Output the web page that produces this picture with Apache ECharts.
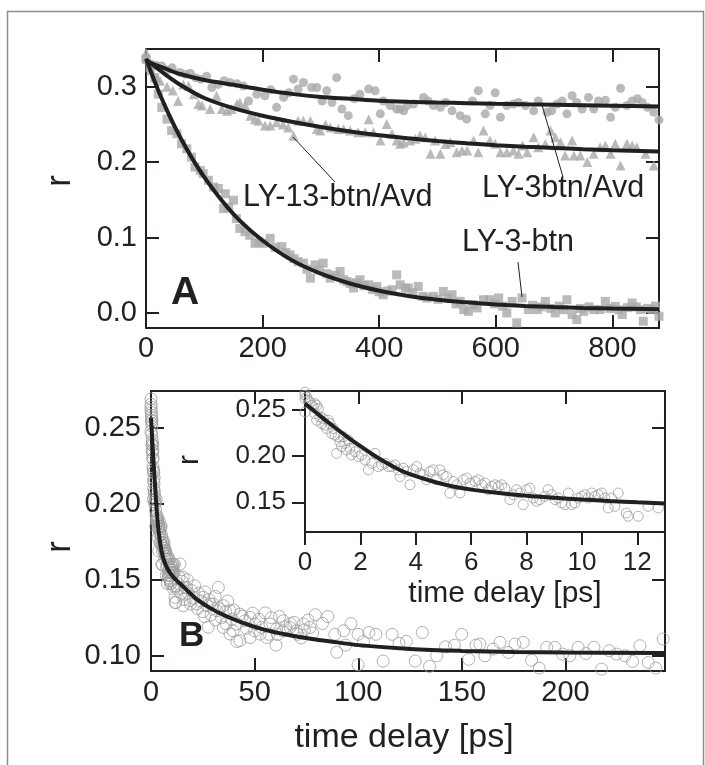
<!DOCTYPE html>
<html><head><meta charset="utf-8">
<script src="https://cdn.jsdelivr.net/npm/echarts@6/dist/echarts.min.js"></script>
<style>html,body{margin:0;padding:0;background:#fff}#c{width:705px;height:765px}</style>
</head><body><div id="c"></div>
<script>
// ---------- Panel A data ----------
const aTicksX = [0, 200, 400, 600, 800];
const aTicksY = [0, 0.1, 0.2, 0.3];
// LY-3btn/Avd (circles)
const aCircles = [[0,0.335],[9,0.330],[18,0.328],[27,0.3276],[36,0.322],[45,0.325],[58,0.319],[67,0.3166],[76,0.318],[85,0.312],
[94,0.310],[104,0.314],[113,0.299],[124,0.303],[134,0.308],[144,0.3056],[156,0.304],[167,0.301],[176,0.281],[190,0.290],
[204,0.288],[214,0.296],[224,0.2726],[236,0.2858],[245,0.292],[253,0.310],[261,0.297],[270,0.3056],[284,0.299],[293,0.299],
[302,0.281],[310,0.2946],[319,0.279],[327,0.312],[336,0.2705],[347,0.2616],[357,0.284],[367,0.290],[382,0.297],[393,0.2946],
[402,0.264],[407,0.281],[419,0.275],[430,0.2705],[436,0.2705],[442,0.268],[448,0.275],[459,0.277],[476,0.2858],[484,0.281],
[493,0.275],[505,0.2726],[514,0.279],[525,0.268],[539,0.2616],[550,0.257],[560,0.281],[570,0.2946],[582,0.264],[590,0.275],
[599,0.292],[608,0.2594],[619,0.275],[630,0.277],[639,0.279],[651,0.275],[665,0.268],[673,0.281],[688,0.266],[696,0.268],
[705,0.277],[714,0.281],[722,0.264],[731,0.288],[739,0.279],[748,0.2705],[759,0.2858],[768,0.2705],[776,0.281],[788,0.282],
[797,0.2594],[805,0.2726],[814,0.298],[825,0.275],[834,0.281],[843,0.284],[851,0.279],[860,0.2726],[871,0.266],[880,0.256]];
// LY-13-btn/Avd (triangles)
const aTriangles = [[0,0.345],[9,0.322],[18,0.312],[24,0.308],[36,0.300],[46,0.295],[55,0.281],[64,0.303],[73,0.301],[82,0.290],
[90,0.277],[96,0.275],[110,0.2705],[121,0.288],[130,0.2705],[139,0.268],[147,0.2705],[156,0.277],[161,0.279],[170,0.275],
[179,0.2616],[187,0.257],[193,0.255],[204,0.2484],[213,0.2484],[224,0.2528],[235,0.250],[244,0.246],[253,0.235],[261,0.255],
[270,0.255],[282,0.255],[293,0.244],[299,0.242],[308,0.250],[316,0.246],[330,0.244],[339,0.244],[350,0.242],[364,0.2396],
[376,0.2396],[382,0.257],[390,0.2396],[402,0.2286],[413,0.2506],[422,0.2375],[430,0.2286],[436,0.2243],[442,0.226],[453,0.2286],
[462,0.231],[470,0.2352],[479,0.233],[488,0.211],[496,0.2286],[505,0.211],[514,0.224],[522,0.2264],[533,0.2132],[542,0.2154],
[551,0.2154],[562,0.2286],[570,0.2132],[579,0.242],[590,0.2286],[599,0.2243],[608,0.2132],[619,0.2132],[630,0.2154],[639,0.211],
[646,0.222],[654,0.2132],[665,0.233],[673,0.2198],[685,0.224],[694,0.242],[702,0.233],[711,0.2264],[719,0.2088],[731,0.2286],
[734,0.2088],[745,0.2088],[757,0.200],[768,0.211],[779,0.2198],[788,0.222],[797,0.211],[805,0.2243],[814,0.1956],[825,0.2243],
[834,0.222],[842,0.2198],[857,0.211],[871,0.1956]];
// LY-3-btn (squares)
const aSquares = [[0,0.337],[7,0.325],[15,0.312],[21,0.290],[27,0.2726],[36,0.257],[44,0.2418],[53,0.2375],[61,0.2243],[70,0.2177],
[78,0.2066],[84,0.1934],[93,0.189],[98,0.1847],[107,0.1759],[116,0.167],[124,0.165],[133,0.1385],[136,0.158],[142,0.140],
[150,0.1495],[155,0.125],[161,0.112],[170,0.1077],[178,0.103],[187,0.0923],[194,0.094],[201,0.0923],[213,0.099],[222,0.087],
[233,0.0879],[240,0.080],[247,0.0769],[254,0.072],[261,0.068],[270,0.066],[276,0.058],[282,0.0462],[290,0.0637],[297,0.057],
[304,0.066],[310,0.052],[316,0.0462],[325,0.050],[333,0.0549],[339,0.044],[345,0.0417],[350,0.039],[356,0.033],[361,0.040],
[367,0.044],[374,0.036],[382,0.0373],[389,0.031],[396,0.0351],[400,0.028],[407,0.0241],[415,0.029],[422,0.0307],[430,0.0505],
[436,0.0373],[445,0.033],[450,0.033],[458,0.027],[467,0.0351],[475,0.022],[482,0.0198],[493,0.0219],[501,0.018],[510,0.0285],
[518,0.020],[525,0.0241],[532,0.012],[539,0.0153],[545,0.0044],[553,0.0021],[561,0.011],[568,0.0066],[579,0.0175],[590,0.0175],
[598,0.012],[605,0.0198],[612,0.009],[619,0.0],[628,0.0153],[636,-0.0132],[645,0.0198],[656,0.0044],[663,0.010],[671,0.0044],
[678,0.008],[685,0.0153],[694,0.006],[702,0.0],[709,0.009],[716,0.0044],[722,0.0175],[731,-0.0022],[739,-0.0088],[745,0.006],
[751,0.0021],[760,0.008],[768,0.0044],[779,0.0044],[788,0.0153],[796,0.006],[805,0.0087],[811,0.004],[817,-0.0022],[826,0.007],
[834,0.0132],[841,0.008],[848,0.0044],[853,-0.011],[861,0.006],[868,0.0044],[874,0.009],[880,-0.0044]];
// fitted curves
const aFitCircles = [[0,0.334],[30,0.325],[60,0.3165],[100,0.309],[150,0.3025],[200,0.296],[250,0.2905],[300,0.2865],[350,0.284],[400,0.2815],[450,0.280],[500,0.279],[550,0.2782],[600,0.2773],[650,0.2766],[700,0.276],[750,0.2754],[800,0.2748],[880,0.2738]];
const aFitTriangles = [[0,0.336],[30,0.318],[60,0.302],[100,0.285],[150,0.2715],[200,0.2615],[250,0.2535],[300,0.2465],[350,0.2405],[400,0.2355],[450,0.2315],[500,0.228],[550,0.225],[600,0.2225],[650,0.2205],[700,0.2188],[750,0.2172],[800,0.2158],[880,0.214]];
const aFitSquares = [[0,0.337],[20,0.297],[40,0.262],[60,0.231],[80,0.204],[100,0.180],[130,0.149],[160,0.123],[200,0.096],[250,0.070],[300,0.052],[350,0.039],[400,0.0295],[450,0.0225],[500,0.0175],[550,0.014],[600,0.0112],[650,0.0092],[700,0.0077],[750,0.0066],[800,0.0058],[880,0.0048]];

// ---------- Panel B data ----------
const bTicksX = [0, 50, 100, 150, 200];
const bTicksY = [0.10, 0.15, 0.20, 0.25];
const insetTicksX = [0, 2, 4, 6, 8, 10, 12];
const insetTicksY = [0.15, 0.20, 0.25];
const bPoints = [[0,0.2688],[0,0.2653],[0,0.2617],[0,0.2474],[0.06,0.2635],[0.12,0.2599],[0.18,0.2581],[0.24,0.2546],[0.30,0.2528],[0.36,0.2564],
[0.42,0.2546],[0.36,0.2456],[0.42,0.2385],[0.48,0.251],[0.54,0.2421],[0.60,0.2349],[0.66,0.2403],[0.72,0.2332],[0.78,0.2296],[0.84,0.2385],
[0.90,0.2349],[0.96,0.2242],[1.02,0.2296],[1.08,0.2224],[1.14,0.2028],[1.20,0.2207],[1.26,0.2153],[1.32,0.21],[1.38,0.2207],[1.44,0.2135],
[1.50,0.2064],[1.56,0.2171],[1.62,0.2082],[1.68,0.201],[1.81,0.2046],[1.93,0.1993],[2.05,0.201],[2.17,0.1957],[2.29,0.185],[2.41,0.1921],
[2.53,0.2028],[2.65,0.1885],[2.77,0.1903],[2.89,0.1921],[3.01,0.1885],[3.13,0.1885],[3.25,0.1903],[3.37,0.185],[3.43,0.1778],[3.55,0.1868],
[3.67,0.1832],[3.79,0.1689],[3.91,0.185],[4.03,0.1885],[4.15,0.1814],[4.27,0.1796],[4.39,0.1743],[4.51,0.1832],[4.63,0.185],[4.75,0.1743],
[4.87,0.185],[4.99,0.1796],[5.11,0.1778],[5.23,0.16],[5.35,0.1725],[5.48,0.1689],[5.60,0.16],[5.72,0.1743],[5.84,0.1761],[5.96,0.1707],
[6.14,0.1725],[6.26,0.1743],[6.38,0.1689],[6.50,0.1707],[6.62,0.1636],[6.74,0.1671],[6.86,0.1689],[6.98,0.1671],[7.10,0.1689],[7.22,0.1653],
[7.40,0.1529],[7.52,0.1582],[7.64,0.1636],[7.76,0.16],[7.88,0.1475],[8.00,0.1636],[8.12,0.1653],[8.24,0.1546],[8.36,0.1511],[8.48,0.1529],
[8.66,0.1564],[8.78,0.1636],[8.91,0.1582],[9.03,0.1529],[9.15,0.1546],[9.27,0.1493],[9.39,0.1475],[9.51,0.16],[9.63,0.1475],[9.75,0.1493],
[9.87,0.1546],[9.99,0.1564],[10.11,0.1582],[10.23,0.1546],[10.35,0.16],[10.47,0.1564],[10.59,0.1582],[10.71,0.16],[10.83,0.1546],[10.95,0.1439],
[11.07,0.1546],[11.19,0.1457],[11.31,0.16],[11.67,0.135],[12.03,0.135],[12.39,0.1457],[12.76,0.1439],
[11.6,0.1384],[13.2,0.1472],[13.5,0.152],[14,0.1603],[14.5,0.141],[15,0.149],[15.5,0.1329],[15.6,0.1515],[16,0.137],[16.5,0.145],
[17.2,0.1449],[17.5,0.150],[18,0.141],[18.8,0.1362],[19,0.134],[19.5,0.143],[20.5,0.138],[21,0.146],[22,0.134],[22.5,0.131],
[23,0.141],[24,0.136],[25,0.129],[25.2,0.1384],[25.8,0.1258],[26,0.142],[27,0.133],[27.6,0.1188],[28,0.137],[28.5,0.134],
[29,0.127],[30,0.134],[31,0.139],[31,0.1235],[31.7,0.1296],[32.5,0.1449],[33,0.131],[34,0.125],[34.9,0.1329],[34.9,0.1186],
[36,0.129],[36.2,0.1211],[37,0.136],[38.1,0.1296],[38.1,0.1143],[39,0.124],[39.6,0.1164],[40,0.13],[41.3,0.1209],[41.4,0.1094],
[42.9,0.1274],[42.9,0.1099],[44,0.126],[45.3,0.123],[46,0.118],[47.8,0.1252],[47.8,0.112],[49,0.128],[50,0.1164],[50.2,0.1209],
[52,0.124],[52.6,0.1143],[53.4,0.1186],[55.1,0.1282],[55.8,0.112],[56.9,0.1141],[57.4,0.1209],[58,0.125],[60.3,0.107],[60.6,0.1176],
[61,0.114],[62,0.1258],[63.7,0.1164],[63.8,0.123],[65,0.119],[67.1,0.1186],[67.2,0.1211],[69,0.122],[70.3,0.1164],[70.6,0.1141],
[72.4,0.1117],[73.5,0.1209],[74,0.117],[75.8,0.1235],[76.7,0.1186],[78,0.115],[79.3,0.127],[82.7,0.1212],[85.3,0.1258],[88.7,0.1141],
[89.6,0.1023],[93,0.1164],[93.9,0.107],[96.5,0.1211],[99.9,0.1141],[99.9,0.0941],[102.5,0.1094],[105.1,0.1153],[108.5,0.1141],[112,0.0965],
[116.3,0.1141],[119.7,0.1082],[123.2,0.1094],[127.5,0.0965],[130.9,0.1153],[134.4,0.093],[137.8,0.1],[142.1,0.1059],[146.4,0.107],[149.9,0.1141],
[153.3,0.0977],[156.8,0.107],[158.7,0.1077],[161.1,0.1],[165.1,0.1044],[168.4,0.1088],[172.4,0.1022],[175.6,0.1077],[179.6,0.1088],[183.6,0.0971],
[187.3,0.0919],[190.9,0.1055],[194.9,0.1055],[198.6,0.1011],[202.1,0.1],[206.1,0.1055],[209.8,0.1015],[213.7,0.1055],[217.4,0.0912],[221.1,0.1033],
[224.6,0.1011],[228.7,0.1],[232.4,0.0963],[235.9,0.1066],[239.9,0.0956],[243.6,0.0919],[247.1,0.111]];
const bFit = [[0,0.2565],[0.5,0.2443],[1,0.2325],[1.5,0.2212],[2,0.2105],[2.5,0.2005],[3,0.1915],[3.5,0.1838],[4,0.1782],[4.5,0.1735],
[5,0.1695],[5.5,0.1662],[6,0.1637],[7,0.1600],[8,0.1571],[9,0.1549],[10,0.1530],[11,0.1514],[12,0.1500],[13,0.1487],[15,0.1462],[18,0.1422],[22,0.1372],[28,0.1318],
[35,0.1268],[45,0.1213],[55,0.117],[65,0.114],[77,0.1112],[90,0.1088],[100,0.107],[125,0.1045],[150,0.1032],[175,0.1025],[200,0.1021],[248,0.1018]];

// ---------- chart ----------
const INK = '#231f20';
const FONT = '"Liberation Sans", Arial, Helvetica, sans-serif';
function ax() {
  return {
    type: 'value',
    axisLine: {show: true, onZero: false, lineStyle: {color: INK, width: 2}},
    splitLine: {show: false}
  };
}
function ticks(vals, showLabel, fmt, size, margin, inside) {
  return {
    axisTick: {show: true, inside: inside, length: 13, lineStyle: {color: INK, width: 2}, customValues: vals},
    axisLabel: {show: showLabel, customValues: vals, formatter: fmt, color: INK, fontSize: size, fontFamily: FONT, margin: margin}
  };
}
const fmt0 = v => String(Math.round(v));
const fmt1 = v => v.toFixed(1);
const fmt2 = v => v.toFixed(2);

const xAxes = [
  Object.assign(ax(), {gridIndex: 0, position: 'bottom', min: 0, max: 880}, ticks(aTicksX, true, fmt0, 29, 6, true)),
  Object.assign(ax(), {gridIndex: 0, position: 'top', min: 0, max: 880}, ticks(aTicksX, false, fmt0, 29, 6, true)),
  Object.assign(ax(), {gridIndex: 1, position: 'bottom', min: 0, max: 248}, ticks(bTicksX, true, fmt0, 29, 7, true)),
  Object.assign(ax(), {gridIndex: 1, position: 'top', min: 0, max: 248}, ticks(bTicksX, false, fmt0, 29, 7, true)),
  Object.assign(ax(), {gridIndex: 2, position: 'bottom', min: 0, max: 13}, ticks(insetTicksX, true, fmt0, 26, 18, false))
];
const yAxes = [
  Object.assign(ax(), {gridIndex: 0, position: 'left', min: -0.02, max: 0.35}, ticks(aTicksY, true, fmt1, 29, 9, true)),
  Object.assign(ax(), {gridIndex: 0, position: 'right', min: -0.02, max: 0.35}, ticks(aTicksY, false, fmt1, 29, 9, true)),
  Object.assign(ax(), {gridIndex: 1, position: 'left', min: 0.09, max: 0.274}, ticks(bTicksY, true, fmt2, 29, 10, true)),
  Object.assign(ax(), {gridIndex: 1, position: 'right', min: 0.09, max: 0.274}, ticks(bTicksY, false, fmt2, 29, 10, true)),
  Object.assign(ax(), {gridIndex: 2, position: 'left', min: 0.118, max: 0.27}, ticks(insetTicksY, true, fmt2, 26, 19, false))
];

const GRAY = '#a9a9a9';
const fitLine = (xi, data) => ({type: 'line', xAxisIndex: xi, yAxisIndex: xi, data: data, symbol: 'none',
  smooth: 0.35, lineStyle: {color: INK, width: 4}, z: 5});
const series = [
  {type: 'scatter', xAxisIndex: 0, yAxisIndex: 0, data: aCircles, symbol: 'circle', symbolSize: 9, itemStyle: {color: GRAY}},
  {type: 'scatter', xAxisIndex: 0, yAxisIndex: 0, data: aTriangles, symbol: 'triangle', symbolSize: 10, itemStyle: {color: GRAY}},
  {type: 'scatter', xAxisIndex: 0, yAxisIndex: 0, data: aSquares, symbol: 'rect', symbolSize: 9, itemStyle: {color: GRAY}},
  fitLine(0, aFitCircles),
  fitLine(0, aFitTriangles),
  fitLine(0, aFitSquares),
  {type: 'scatter', xAxisIndex: 2, yAxisIndex: 2, data: bPoints, symbol: 'circle', symbolSize: 12,
    itemStyle: {color: 'rgba(255,255,255,0)', borderColor: '#9e9e9e', borderWidth: 1}},
  fitLine(2, bFit),
  {type: 'scatter', xAxisIndex: 4, yAxisIndex: 4, data: bPoints.filter(p => p[0] <= 13), symbol: 'circle', symbolSize: 10,
    itemStyle: {color: 'rgba(255,255,255,0)', borderColor: '#9e9e9e', borderWidth: 1}},
  fitLine(4, bFit.filter(p => p[0] <= 13))
];

function txt(text, x, y, size, opts) {
  opts = opts || {};
  return {type: 'text', x: x, y: y, rotation: opts.rot || 0, silent: true, z: 100,
    style: {text: text, fill: INK, font: (opts.bold ? 'bold ' : '') + size + 'px ' + FONT,
      align: opts.align || 'left', verticalAlign: 'middle', textAlign: opts.align || 'left', textVerticalAlign: 'middle'}};
}
function seg(x1, y1, x2, y2) {
  return {type: 'line', silent: true, z: 100, shape: {x1: x1, y1: y1, x2: x2, y2: y2}, style: {stroke: INK, lineWidth: 1}};
}
const graphics = [
  {type: 'rect', silent: true, shape: {x: 7.5, y: 11.5, width: 696, height: 770}, style: {fill: 'none', stroke: '#8c8c8c', lineWidth: 1.5}},
  txt('r', 60, 181, 35, {rot: Math.PI / 2, align: 'center'}),
  txt('r', 60, 547, 35, {rot: Math.PI / 2, align: 'center'}),
  txt('r', 190, 460, 30, {rot: Math.PI / 2, align: 'center'}),
  txt('A', 171, 293, 39, {bold: true}),
  txt('B', 179, 636, 35, {bold: true}),
  txt('LY-13-btn/Avd', 243, 198, 30.5),
  txt('LY-3btn/Avd', 482, 189, 30.5),
  txt('LY-3-btn', 462, 243, 30.5),
  txt('time delay [ps]', 404, 738, 34, {align: 'center'}),
  txt('time delay [ps]', 505, 594, 30, {align: 'center'}),
  seg(293, 137, 335, 182),
  seg(542, 105, 563, 177),
  seg(518, 262, 522, 297)
];

const chart = echarts.init(document.getElementById('c'), null, {renderer: 'canvas'});
chart.setOption({
  animation: false,
  backgroundColor: '#fff',
  grid: [
    {left: 146, top: 49, width: 513, height: 279},
    {left: 151, top: 391, width: 514, height: 280},
    {left: 305, top: 391, width: 360, height: 141}
  ],
  xAxis: xAxes,
  yAxis: yAxes,
  series: series,
  graphic: {elements: graphics}
});
</script>
</body></html>
